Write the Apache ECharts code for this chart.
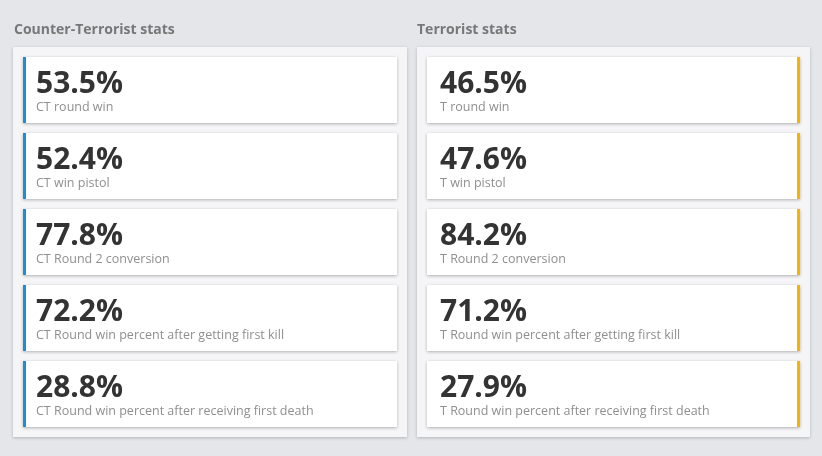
<!DOCTYPE html>
<html>
<head>
<meta charset="utf-8">
<script src="https://cdn.jsdelivr.net/npm/echarts@6/dist/echarts.min.js"></script>
<style>
  html, body { margin: 0; padding: 0; background: #e5e6ea; }
  #chart { width: 822px; height: 456px; }
</style>
</head>
<body>
<div id="chart"></div>
<script>
// data
let ctLabels = ['CT round win', 'CT win pistol', 'CT Round 2 conversion',
    'CT Round win percent after getting first kill', 'CT Round win percent after receiving first death'];
let ctValues = [53.5, 52.4, 77.8, 72.2, 28.8];
let tLabels = ['T round win', 'T win pistol', 'T Round 2 conversion',
    'T Round win percent after getting first kill', 'T Round win percent after receiving first death'];
let tValues = [46.5, 47.6, 84.2, 71.2, 27.9];

let chart = echarts.init(document.getElementById('chart'));

// 卡片绘制
function cardRenderer(side) {
    let accent = side === 'ct' ? '#1a8fd5' : '#f5b400';
    return function (params, api) {
        let cs = params.coordSys;
        let center = api.coord([0, api.value(0)]);
        let band = api.size([0, 1])[1];
        let h = band - 10;
        let top = center[1] - h / 2;
        let x = cs.x, w = cs.width;
        let barX = side === 'ct' ? x : x + w - 3;
        return {
            type: 'group',
            children: [
                {
                    type: 'rect',
                    shape: { x: x, y: top, width: w, height: h },
                    style: {
                        fill: '#fff',
                        shadowBlur: 3,
                        shadowOffsetY: 1,
                        shadowColor: 'rgba(0,0,0,0.28)'
                    }
                },
                {
                    type: 'rect',
                    shape: { x: barX, y: top, width: 3, height: h },
                    style: { fill: accent }
                },
                {
                    type: 'text',
                    x: x + 13,
                    y: top + 27,
                    style: {
                        text: api.value(1).toFixed(1) + '%',
                        fill: '#333',
                        font: 'bold 30px "Open Sans"',
                        verticalAlign: 'middle'
                    }
                },
                {
                    type: 'text',
                    x: x + 13,
                    y: top + 50,
                    style: {
                        text: api.value(2),
                        fill: '#8f8f8f',
                        font: '12.5px "Open Sans"',
                        verticalAlign: 'middle'
                    }
                }
            ]
        };
    };
}

function rows(values, labels) {
    return values.map(function (v, i) { return [i, v, labels[i]]; });
}

let option = {
    backgroundColor: '#e5e6ea',
    animation: false,
    graphic: [
        {
            type: 'rect', z: 0,
            shape: { x: 13, y: 47, width: 394, height: 390 },
            style: { fill: '#f5f5f7', shadowBlur: 3, shadowOffsetY: 1, shadowColor: 'rgba(0,0,0,0.22)' }
        },
        {
            type: 'rect', z: 0,
            shape: { x: 417, y: 47, width: 393, height: 390 },
            style: { fill: '#f5f5f7', shadowBlur: 3, shadowOffsetY: 1, shadowColor: 'rgba(0,0,0,0.22)' }
        },
        {
            type: 'text', x: 14, y: 30,
            style: { text: 'Counter-Terrorist stats', fill: '#777', font: 'bold 14px "Open Sans"', verticalAlign: 'middle' }
        },
        {
            type: 'text', x: 417, y: 30,
            style: { text: 'Terrorist stats', fill: '#777', font: 'bold 14px "Open Sans"', verticalAlign: 'middle' }
        }
    ],
    grid: [
        { left: 23, top: 52, width: 374, height: 380 },
        { left: 427, top: 52, width: 373, height: 380 }
    ],
    xAxis: [
        { type: 'value', gridIndex: 0, min: 0, max: 100, show: false },
        { type: 'value', gridIndex: 1, min: 0, max: 100, show: false }
    ],
    yAxis: [
        { type: 'category', gridIndex: 0, inverse: true, data: ctLabels, show: false },
        { type: 'category', gridIndex: 1, inverse: true, data: tLabels, show: false }
    ],
    series: [
        {
            type: 'custom', xAxisIndex: 0, yAxisIndex: 0, z: 2,
            renderItem: cardRenderer('ct'),
            encode: { x: 1, y: 0 },
            data: rows(ctValues, ctLabels)
        },
        {
            type: 'custom', xAxisIndex: 1, yAxisIndex: 1, z: 2,
            renderItem: cardRenderer('t'),
            encode: { x: 1, y: 0 },
            data: rows(tValues, tLabels)
        }
    ]
};
chart.setOption(option);
</script>
</body>
</html>
